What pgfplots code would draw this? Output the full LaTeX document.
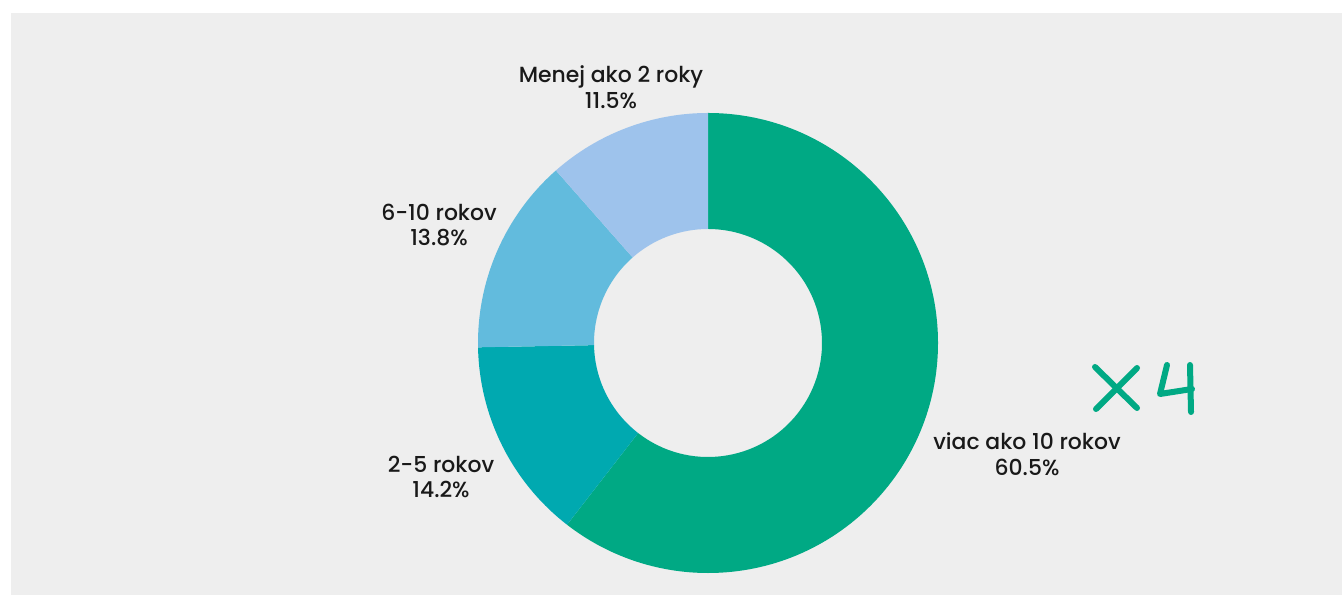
\documentclass[border=0pt]{standalone}
\usepackage{pgfplots}
\usepackage{pgfplotstable}
\pgfplotsset{compat=1.18}
\usepackage{fontspec}
\setmainfont{Poppins}[UprightFont={* Medium}]

\definecolor{bgGray}{HTML}{EEEEEE}
\definecolor{cGreen}{HTML}{00A984}
\definecolor{cTeal}{HTML}{00A9B0}
\definecolor{cSky}{HTML}{62BBDD}
\definecolor{cPale}{HTML}{9EC3EC}

% share of respondents, clockwise from 12 o'clock
\pgfplotstableread[col sep=comma]{
share,color
60.5,cGreen
14.2,cTeal
13.8,cSky
11.5,cPale
}\piedata

\begin{document}
\begin{tikzpicture}
\begin{axis}[x=0.5bp,y=0.5bp,xmin=0,xmax=1342,ymin=0,ymax=595,
  hide axis,scale only axis,clip=false]
\fill[white] (axis cs:0,0) rectangle (axis cs:1342,595);
\fill[bgGray] (axis cs:11,0) rectangle (axis cs:1342,582);

\pgfplotstablegetrowsof{\piedata}
\pgfmathtruncatemacro{\lastrow}{\pgfplotsretval-1}
\def\startangle{90}
\pgfplotsforeachungrouped \i in {0,...,\lastrow}{
  \pgfplotstablegetelem{\i}{share}\of\piedata \let\val\pgfplotsretval
  \pgfplotstablegetelem{\i}{color}\of\piedata \let\col\pgfplotsretval
  \pgfmathsetmacro{\endangle}{\startangle-3.6*\val}
  \edef\wedge{\noexpand\fill[\col,shift={(axis cs:708,252)}]
    (\startangle:115bp) arc[start angle=\startangle,end angle=\endangle,radius=115bp]
    -- (\endangle:57bp) arc[start angle=\endangle,end angle=\startangle,radius=57bp] -- cycle;}
  \wedge
  \global\let\startangle\endangle
}

\tikzset{lbl/.style={align=center,text=black!90,font=\fontsize{11}{13}\selectfont}}
\node[lbl] at (axis cs:611,508) {Menej ako 2 roky\\11.5\%};
\node[lbl] at (axis cs:439,370) {6-10 rokov\\13.8\%};
\node[lbl] at (axis cs:441,118) {2-5 rokov\\14.2\%};
\node[lbl] at (axis cs:1027,141) {viac ako 10 rokov\\60.5\%};

% handwritten "x4"
\begin{scope}[cGreen,line width=3bp,line cap=round,line join=round]
\draw (axis cs:1095,228) -- (axis cs:1137,187);
\draw (axis cs:1096,186) -- (axis cs:1137,227);
\draw (axis cs:1167,230) -- (axis cs:1160,201) -- (axis cs:1192,206);
\draw (axis cs:1190,230) -- (axis cs:1191,183);
\end{scope}
\end{axis}
\end{tikzpicture}
\end{document}
